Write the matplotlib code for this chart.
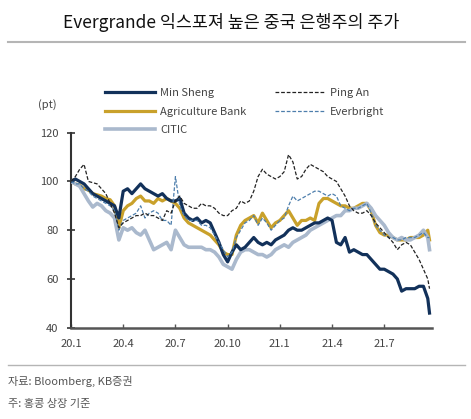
import numpy as np
import matplotlib
matplotlib.use("Agg")
from matplotlib import pyplot as plt
from matplotlib.lines import Line2D

plt.rcParams['font.family'] = ['Noto Sans CJK KR', 'DejaVu Sans']

# months since Jan 2020 (roughly weekly points)
months = list(np.arange(0, 20.51, 0.25)) + [20.6]

min_sheng = [100, 101, 100, 99,
             97, 95, 94, 93,
             92, 91, 90, 85,
             96, 97, 95, 97,
             99, 97, 96, 95,
             94, 95, 93, 92,
             92, 93, 87, 85,
             84, 85, 83, 84,
             83, 79, 75, 70,
             67, 71, 74, 72,
             73, 75, 77, 75,
             74, 75, 74, 76,
             77, 78, 80, 81,
             80, 80, 81, 82,
             83, 83, 84, 85,
             84, 75, 74, 77,
             71, 72, 71, 70,
             70, 68, 66, 64,
             64, 63, 62, 60,
             55, 56, 56, 56,
             57, 57, 52, 46]

agri_bank = [100, 99, 98.5, 97,
             96.5, 95, 94.5, 94,
             93, 92.5, 90, 81,
             88, 90, 91, 93,
             94, 92, 92, 91,
             93, 92, 93, 92,
             91, 89, 85, 83,
             82, 81, 80, 79,
             78, 76, 74, 71,
             70, 70, 78, 82,
             84, 85, 86, 83,
             87, 84, 81, 83,
             84, 86, 88, 85,
             82, 84, 84, 85,
             84, 91, 93, 93,
             92, 91, 90, 90,
             89, 89, 90, 91,
             91, 88, 82, 79,
             78, 78, 77, 76,
             76, 76, 77, 77,
             77, 78, 80, 76]

citic = [100, 99, 98, 95,
         92, 89.5, 91, 90,
         88, 87, 85, 76,
         81, 80, 81, 79,
         78, 80, 76, 72,
         73, 74, 75, 72,
         80, 77, 74, 73,
         73, 73, 73, 72,
         72, 71, 69, 66,
         65, 64, 68, 71,
         72, 72, 71, 70,
         70, 69, 70, 72,
         73, 74, 73, 75,
         76, 77, 78, 80,
         81, 82, 83, 84,
         85, 86, 86, 88,
         88, 89, 89, 90,
         91, 89, 86, 84,
         82, 79, 77, 76,
         77, 76, 76, 77,
         78, 80, 77, 72]

ping_an = [100, 102, 105, 107,
           100, 99.5, 99, 97,
           95, 91, 87, 81,
           83, 84, 85, 86,
           86, 87, 86, 86,
           85, 84, 88, 87,
           92, 94, 91, 90,
           89, 89, 91, 90,
           90, 89, 87, 86,
           86, 88, 89, 92,
           91, 92, 96, 102,
           105, 103, 102, 101,
           102, 104, 111, 108,
           101, 102, 105, 107,
           106, 105, 104, 102,
           101, 100, 97, 94,
           90, 88, 87, 87,
           88, 86, 83, 81,
           79, 77, 75, 72,
           74, 75, 74, 71,
           68, 64, 60, 56]

everbright = [100, 99, 99, 97,
              96, 94, 93, 92,
              91, 90, 88, 80,
              84, 85, 86, 87,
              90, 85, 87, 88,
              87, 84, 84, 82,
              102, 90, 86, 84,
              84, 84, 82, 82,
              81, 78, 75, 72,
              69, 71, 77, 80,
              83, 84, 86, 82,
              85, 83, 80, 82,
              84, 85, 90, 94,
              92, 93, 94, 95,
              96, 96, 95, 94,
              95, 94, 90, 89,
              88, 89, 89, 90,
              91, 87, 82, 80,
              78, 77, 77, 76,
              76, 77, 77, 77,
              78, 79, 77, 77]

tick_pos = [0, 3, 6, 9, 12, 15, 18]
tick_labels = ['20.1', '20.4', '20.7', '20.10', '21.1', '21.4', '21.7']

fig = plt.figure(figsize=(4.71, 4.19), dpi=100)
ax = fig.add_axes([71/471, 1 - 327.7/419, (432.3 - 71)/471, (327.7 - 132.7)/419])

ax.plot(months, agri_bank, color='#c9a12b', lw=2.3, label='Agriculture Bank', zorder=2)
ax.plot(months, citic, color='#aab9cd', lw=2.6, label='CITIC', zorder=3)
ax.plot(months, min_sheng, color='#12315a', lw=2.3, label='Min Sheng', zorder=4)
ax.plot(months, everbright, color='#4d7eac', lw=0.9, ls=(0, (3, 1.5)), label='Everbright', zorder=5)
ax.plot(months, ping_an, color='#222222', lw=0.9, ls=(0, (3, 1.5)), label='Ping An', zorder=6)

ax.set_xlim(0, 20.76)
ax.set_ylim(40, 120)
ax.set_yticks([40, 60, 80, 100, 120])
ax.set_xticks(tick_pos)
ax.set_xticklabels(tick_labels)
for s in ['top', 'right']:
    ax.spines[s].set_visible(False)
ax.spines['left'].set_color('#333333')
ax.spines['left'].set_linewidth(1.5)
ax.spines['bottom'].set_color('#555555')
ax.spines['bottom'].set_linewidth(1.8)
ax.tick_params(axis='y', direction='inout', length=6, width=1.2, color='#333333',
               labelsize=8, labelcolor='#444444', pad=6)
ax.tick_params(axis='x', direction='in', length=3, width=1, color='#555555',
               labelsize=8, labelcolor='#444444', pad=8)

h, l = ax.get_legend_handles_labels()
order = [2, 0, 1, 4, 3]
fig.legend([h[i] for i in order], [l[i] for i in order], loc='upper left',
           bbox_to_anchor=(105/471, 1 - 88/419), ncol=2, frameon=False,
           fontsize=8, handlelength=4.5, handletextpad=0.45, columnspacing=2.6,
           labelspacing=0.78, borderpad=0, borderaxespad=0, labelcolor='#444444')

fig.text(63/471, 1 - 22/419, 'Evergrande 익스포져 높은 중국 은행주의 주가',
         fontsize=12.5, fontweight='medium', va='center', ha='left', color='#111111')
fig.add_artist(Line2D([8/471, 465/471], [1 - 42/419, 1 - 42/419], color='#b5b5b5', lw=1.5))
fig.text(38/471, 1 - 105/419, '(pt)', fontsize=8, va='center', ha='left', color='#444444')
fig.add_artist(Line2D([8/471, 465/471], [1 - 365/419, 1 - 365/419], color='#b5b5b5', lw=1))
fig.text(8/471, 1 - 381/419, '자료: Bloomberg, KB증권', fontsize=8, va='center', ha='left', color='#555555')
fig.text(8/471, 1 - 404/419, '주: 홍콩 상장 기준', fontsize=8, va='center', ha='left', color='#555555')

fig.savefig('out.png', dpi=100)
